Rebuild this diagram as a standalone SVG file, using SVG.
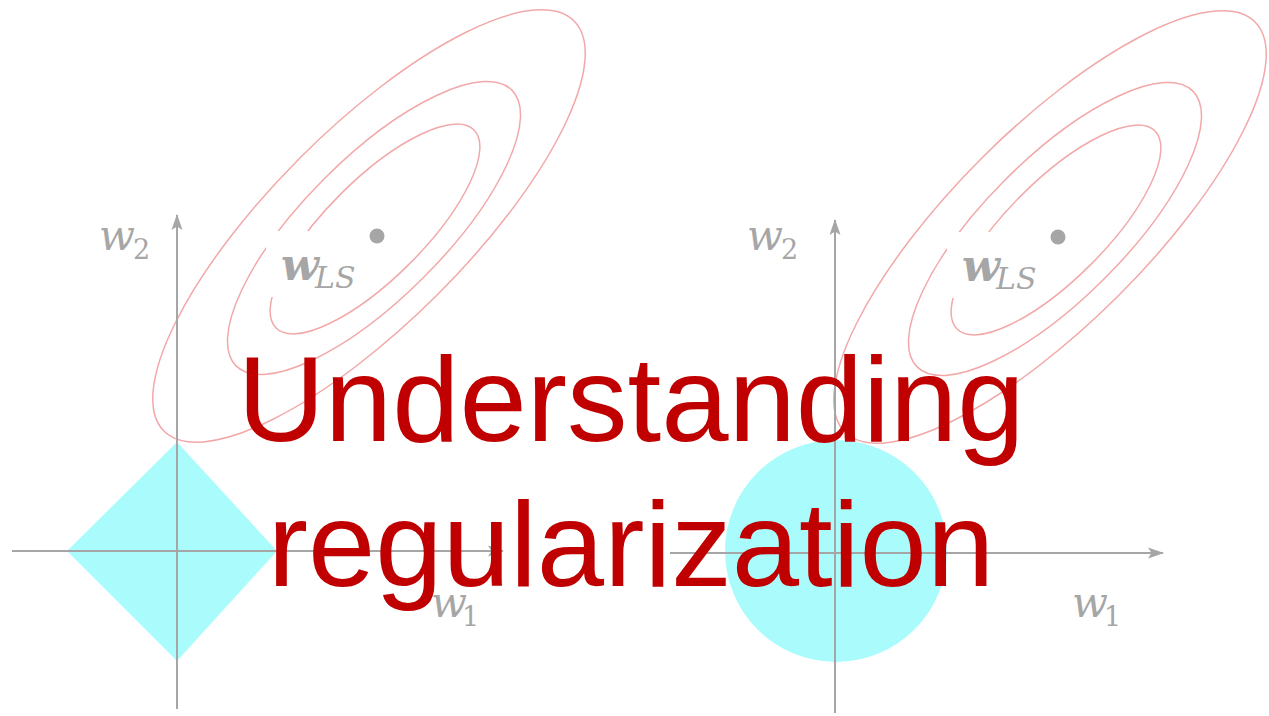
<svg xmlns="http://www.w3.org/2000/svg" width="1269" height="716" viewBox="0 0 1269 716">
  <style>
    .contour { fill: none; stroke: #f2a8a8; stroke-width: 1.5; }
    .axis { fill: none; stroke: #a6a6a6; stroke-width: 2; }
    .region { fill: #aafcfc; }
    .var { font-family: "DejaVu Serif", "Liberation Serif", serif; fill: #a6a6a6; }
    .title { font-family: "Liberation Sans", Arial, sans-serif; font-size: 121px; fill: #c00000; }
  </style>
  <defs>
    <marker id="arr" viewBox="0 0 16 12" refX="15" refY="6" markerWidth="16" markerHeight="12" markerUnits="userSpaceOnUse" orient="auto">
      <path d="M0,0.5 L16,6 L0,11.5 L3.5,6 z" fill="#a6a6a6"/>
    </marker>
    <g id="contours">
      <ellipse class="contour" cx="0" cy="0" rx="140" ry="49" transform="translate(375,229) rotate(-45)"/>
      <ellipse class="contour" cx="0" cy="0" rx="195" ry="70" transform="translate(374,228) rotate(-45)"/>
      <ellipse class="contour" cx="0" cy="0" rx="290" ry="97" transform="translate(369,226) rotate(-45)"/>
      <rect x="266" y="231" width="92" height="66" fill="#ffffff"/>
      <circle cx="377" cy="236" r="7.5" fill="#a6a6a6"/>
      <text class="var" x="281" y="280" font-size="44" font-style="italic" font-weight="bold">w</text>
      <text class="var" x="315" y="288" font-size="30" font-style="italic">LS</text>
    </g>
  </defs>

  <g id="l1-plot">
    <polygon class="region" points="177,442 277,551 177,661 67,551"/>
    <use href="#contours"/>
    <line class="axis" x1="12" y1="551" x2="503" y2="551" marker-end="url(#arr)"/>
    <line class="axis" x1="177" y1="709" x2="177" y2="215" marker-end="url(#arr)"/>
    <text class="var" x="99" y="250" font-size="42" font-style="italic">w</text>
    <text class="var" x="133" y="259" font-size="27">2</text>
    <text class="var" x="431" y="617" font-size="42" font-style="italic">w</text>
    <text class="var" x="462" y="626" font-size="27">1</text>
  </g>

  <g id="l2-plot">
    <circle class="region" cx="836" cy="551" r="111"/>
    <use href="#contours" transform="translate(681,1)"/>
    <line class="axis" x1="670" y1="553" x2="1163" y2="553" marker-end="url(#arr)"/>
    <line class="axis" x1="835" y1="713" x2="835" y2="220" marker-end="url(#arr)"/>
    <text class="var" x="747" y="250" font-size="42" font-style="italic">w</text>
    <text class="var" x="781" y="259" font-size="27">2</text>
    <text class="var" x="1072" y="617" font-size="42" font-style="italic">w</text>
    <text class="var" x="1104" y="626" font-size="27">1</text>
  </g>

  <g id="title">
    <text class="title" x="631" y="441" text-anchor="middle">Understanding</text>
    <text class="title" x="631" y="586" text-anchor="middle">regularization</text>
  </g>
</svg>
